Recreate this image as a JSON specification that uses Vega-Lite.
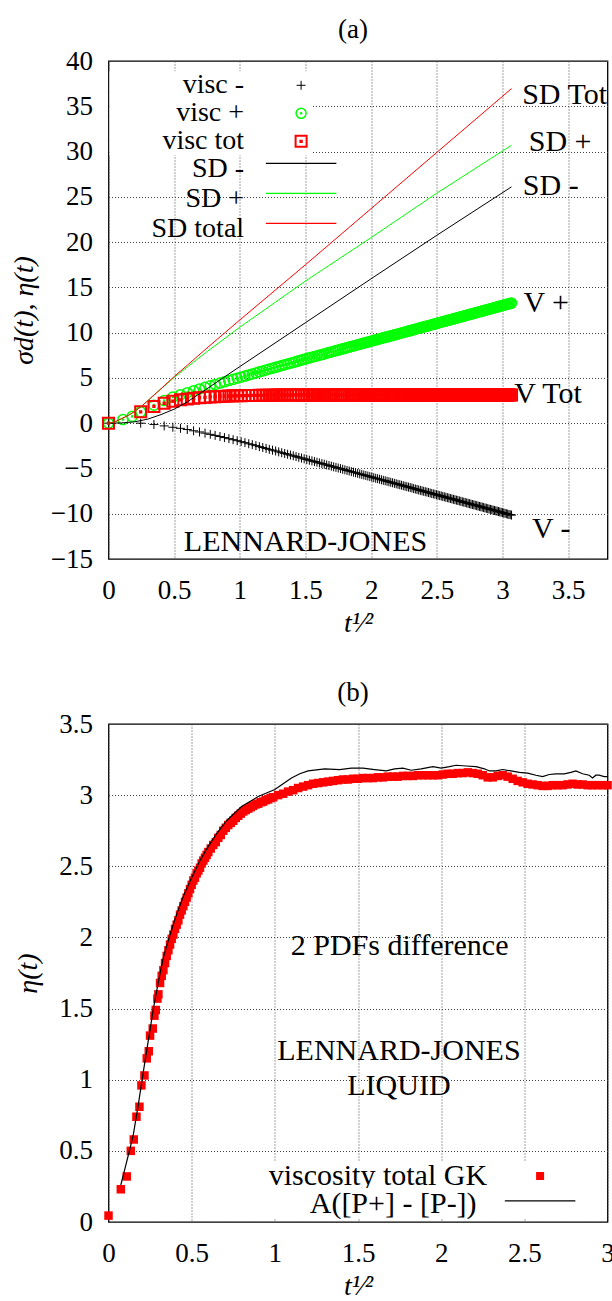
{
  "$schema": "https://vega.github.io/schema/vega-lite/v6.json",
  "background": "white",
  "padding": {"left": 9.5, "top": 15, "right": 0, "bottom": 0},
  "spacing": 165,
  "bounds": "flush",
  "config": {
    "font": "Liberation Serif",
    "view": {"stroke": "#000000", "strokeWidth": 1.3},
    "axis": {"domain": false, "ticks": false, "grid": true, "gridColor": "#444444", "gridDash": [1, 2], "gridWidth": 1,
      "labelFont": "Liberation Serif", "labelFontSize": 27, "labelColor": "#000000", "labelFlush": false, "labelOverlap": false, "labelBound": false,
      "titleFont": "Liberation Serif", "titleFontSize": 28, "titleFontWeight": "normal", "titleFontStyle": "italic", "titleColor": "#000000"},
    "axisX": {"labelPadding": 18, "titlePadding": 6},
    "axisY": {"labelPadding": 16, "titlePadding": 12},
    "legend": {"labelFont": "Liberation Serif", "labelFontSize": 30, "labelColor": "#000000", "labelLimit": 400, "padding": 0, "rowPadding": 0, "title": null},
    "title": {"font": "Liberation Serif", "fontSize": 27, "fontWeight": "normal", "color": "#000000", "anchor": "middle", "offset": 3, "dx": -5}
  },
  "resolve": {
    "scale": {"color": "independent", "shape": "independent", "stroke": "independent", "size": "independent", "strokeWidth": "independent", "x": "independent", "y": "independent"},
    "legend": {"color": "independent", "shape": "independent", "stroke": "independent"}
  },
  "vconcat": [
    {
      "width": 499,
      "height": 498,
      "title": {"text": "(a)"},
      "encoding": {
        "x": {"field": "x", "type": "quantitative", "scale": {"domain": [0, 3.8], "nice": false, "zero": false},
          "axis": {"title": "t¹⁄²", "values": [0, 0.5, 1, 1.5, 2, 2.5, 3, 3.5], "format": "~g"}},
        "y": {"field": "y", "type": "quantitative", "scale": {"domain": [-15, 40], "nice": false, "zero": false},
          "axis": {"title": "σd(t), η(t)", "values": [-15, -10, -5, 0, 5, 10, 15, 20, 25, 30, 35, 40], "format": "~g"}}
      },
      "layer": [
        {
          "data": {"name": "visc"},
          "transform": [{"fold": ["vm", "vp", "vt"], "as": ["key", "y"]}],
          "mark": {"type": "point", "filled": false, "opacity": 1},
          "encoding": {
            "color": {"field": "key", "type": "nominal",
              "scale": {"domain": ["vm", "vp", "vt"], "range": ["#000000", "#00ff00", "#ff0000"]},
              "legend": {"orient": "none", "legendX": 1, "legendY": 10.3, "labelFontSize": 28, "labelAlign": "right", "labelOffset": -71, "symbolOffset": 177.6, "symbolSize": 49, "symbolStrokeWidth": 1, "fillColor": "#ffffff",
                "labelExpr": "datum.value == 'vm' ? 'visc -' : datum.value == 'vp' ? 'visc +' : 'visc tot'"}},
            "shape": {"field": "key", "type": "nominal",
              "scale": {"domain": ["vm", "vp", "vt"], "range": ["M-1,0L1,0M0,-1L0,1", "M-1,0A1,1,0,1,1,1,0A1,1,0,1,1,-1,0ZM-0.12,0A0.12,0.12,0,1,1,0.12,0A0.12,0.12,0,1,1,-0.12,0Z", "M-1,-1L1,-1L1,1L-1,1ZM-0.12,-0.12L0.12,-0.12L0.12,0.12L-0.12,0.12Z"]},
              "legend": {"orient": "none", "legendX": 1, "legendY": 10.3, "labelFontSize": 28, "labelAlign": "right", "labelOffset": -71, "symbolOffset": 177.6, "symbolSize": 49, "symbolStrokeWidth": 1, "fillColor": "#ffffff",
                "labelExpr": "datum.value == 'vm' ? 'visc -' : datum.value == 'vp' ? 'visc +' : 'visc tot'"}},
            "size": {"field": "key", "type": "nominal", "scale": {"domain": ["vm", "vp", "vt"], "range": [81, 121, 81]}, "legend": null},
            "strokeWidth": {"field": "key", "type": "nominal", "scale": {"domain": ["vm", "vp", "vt"], "range": [1, 2, 0.8]}, "legend": null},
            "order": {"field": "key"}
          }
        },
        {
          "data": {"name": "sd"},
          "mark": {"type": "line", "strokeWidth": 1},
          "encoding": {
            "stroke": {"field": "s", "type": "nominal",
              "scale": {"domain": ["SD -", "SD +", "SD total"], "range": ["#000000", "#00ff00", "#ff0000"]},
              "legend": {"orient": "none", "legendX": 1, "legendY": 92.3, "labelFontSize": 28, "labelAlign": "right", "labelOffset": -73, "symbolOffset": 175.6, "symbolType": "M-2.35,-0.4L2.35,-0.4", "symbolSize": 900, "symbolStrokeWidth": 1.2}}
          }
        },
        {
          "data": {"name": "ends_a"},
          "mark": {"type": "text", "align": "left", "baseline": "middle", "fontSize": 30, "font": "Liberation Serif", "color": "#000000"},
          "encoding": {"text": {"field": "label"}}
        },
        {
          "data": {"name": "note_a"},
          "mark": {"type": "text", "align": "center", "baseline": "middle", "fontSize": 30, "font": "Liberation Serif", "color": "#000000"},
          "encoding": {"text": {"field": "label"}}
        }
      ]
    },
    {
      "width": 499,
      "height": 498,
      "title": {"text": "(b)"},
      "encoding": {
        "x": {"field": "x", "type": "quantitative", "scale": {"domain": [0, 3], "nice": false, "zero": false},
          "axis": {"title": "t¹⁄²", "values": [0, 0.5, 1, 1.5, 2, 2.5, 3], "format": "~g"}},
        "y": {"field": "y", "type": "quantitative", "scale": {"domain": [0, 3.5], "nice": false, "zero": false},
          "axis": {"title": "η(t)", "values": [0, 0.5, 1, 1.5, 2, 2.5, 3, 3.5], "format": "~g", "titlePadding": 16}}
      },
      "layer": [
        {
          "data": {"name": "gk"},
          "mark": {"type": "point", "shape": "square", "filled": true, "size": 72, "opacity": 1},
          "encoding": {
            "color": {"datum": "viscosity total GK", "type": "nominal", "scale": {"range": ["#ff0000"]},
              "legend": {"orient": "none", "legendX": 150, "legendY": 437, "labelAlign": "right", "labelOffset": -68, "symbolOffset": 266.6, "symbolSize": 64, "fillColor": "#ffffff"}}
          }
        },
        {
          "data": {"name": "pd"},
          "mark": {"type": "line", "strokeWidth": 1.2},
          "encoding": {
            "stroke": {"datum": "A([P+] - [P-])", "type": "nominal", "scale": {"range": ["#000000"]},
              "legend": {"orient": "none", "legendX": 150, "legendY": 463.9, "labelAlign": "right", "labelOffset": -79.5, "symbolOffset": 265.6, "symbolType": "M-2.35,-0.2L2.35,-0.2", "symbolSize": 900, "symbolStrokeWidth": 1.2, "fillColor": "#ffffff"}}
          }
        },
        {
          "data": {"name": "note_b"},
          "mark": {"type": "text", "align": "center", "baseline": "middle", "fontSize": 30, "font": "Liberation Serif", "color": "#000000"},
          "encoding": {"text": {"field": "label"}}
        }
      ]
    }
  ],
  "datasets": {
    "visc": [
      {"x": 0, "vm": 0, "vp": 0, "vt": 0},
      {"x": 0.11, "vp": 0.4},
      {"x": 0.18, "vp": 0.75},
      {"x": 0.245, "vm": 0, "vp": 1.25, "vt": 1.25},
      {"x": 0.346, "vm": -0.14, "vp": 1.99, "vt": 1.85},
      {"x": 0.424, "vm": -0.3, "vp": 2.5, "vt": 2.2},
      {"x": 0.49, "vm": -0.45, "vp": 2.88, "vt": 2.43},
      {"x": 0.548, "vm": -0.57, "vp": 3.15, "vt": 2.58},
      {"x": 0.6, "vm": -0.7, "vp": 3.37, "vt": 2.67},
      {"x": 0.648, "vm": -0.84, "vp": 3.59, "vt": 2.75},
      {"x": 0.693, "vm": -0.97, "vp": 3.78, "vt": 2.81},
      {"x": 0.735, "vm": -1.1, "vp": 3.96, "vt": 2.86},
      {"x": 0.775, "vm": -1.23, "vp": 4.13, "vt": 2.9},
      {"x": 0.812, "vm": -1.35, "vp": 4.28, "vt": 2.93},
      {"x": 0.849, "vm": -1.47, "vp": 4.43, "vt": 2.96},
      {"x": 0.883, "vm": -1.59, "vp": 4.57, "vt": 2.98},
      {"x": 0.917, "vm": -1.71, "vp": 4.71, "vt": 3.0},
      {"x": 0.949, "vm": -1.82, "vp": 4.84, "vt": 3.02},
      {"x": 0.98, "vm": -1.93, "vp": 4.96, "vt": 3.03},
      {"x": 1.01, "vm": -2.04, "vp": 5.08, "vt": 3.04},
      {"x": 1.039, "vm": -2.15, "vp": 5.2, "vt": 3.05},
      {"x": 1.068, "vm": -2.27, "vp": 5.33, "vt": 3.06},
      {"x": 1.095, "vm": -2.37, "vp": 5.44, "vt": 3.07},
      {"x": 1.1225, "vm": -2.48, "vp": 5.55, "vt": 3.07},
      {"x": 1.1489, "vm": -2.59, "vp": 5.67, "vt": 3.08},
      {"x": 1.1747, "vm": -2.69, "vp": 5.77, "vt": 3.08},
      {"x": 1.2, "vm": -2.79, "vp": 5.88, "vt": 3.09},
      {"x": 1.2247, "vm": -2.89, "vp": 5.98, "vt": 3.09},
      {"x": 1.249, "vm": -2.98, "vp": 6.07, "vt": 3.09},
      {"x": 1.2728, "vm": -3.07, "vp": 6.17, "vt": 3.1},
      {"x": 1.2961, "vm": -3.17, "vp": 6.27, "vt": 3.1},
      {"x": 1.3191, "vm": -3.26, "vp": 6.36, "vt": 3.1},
      {"x": 1.3416, "vm": -3.35, "vp": 6.45, "vt": 3.1},
      {"x": 1.3638, "vm": -3.43, "vp": 6.54, "vt": 3.11},
      {"x": 1.3856, "vm": -3.52, "vp": 6.63, "vt": 3.11},
      {"x": 1.4071, "vm": -3.6, "vp": 6.71, "vt": 3.11},
      {"x": 1.4283, "vm": -3.69, "vp": 6.8, "vt": 3.11},
      {"x": 1.4491, "vm": -3.77, "vp": 6.88, "vt": 3.11},
      {"x": 1.4697, "vm": -3.85, "vp": 6.97, "vt": 3.12},
      {"x": 1.49, "vm": -3.93, "vp": 7.05, "vt": 3.12},
      {"x": 1.51, "vm": -4.01, "vp": 7.13, "vt": 3.12},
      {"x": 1.5297, "vm": -4.09, "vp": 7.21, "vt": 3.12},
      {"x": 1.5492, "vm": -4.16, "vp": 7.28, "vt": 3.12},
      {"x": 1.5684, "vm": -4.24, "vp": 7.36, "vt": 3.12},
      {"x": 1.5875, "vm": -4.31, "vp": 7.43, "vt": 3.12},
      {"x": 1.6062, "vm": -4.39, "vp": 7.51, "vt": 3.12},
      {"x": 1.6248, "vm": -4.46, "vp": 7.58, "vt": 3.12},
      {"x": 1.6432, "vm": -4.53, "vp": 7.65, "vt": 3.12},
      {"x": 1.6613, "vm": -4.61, "vp": 7.73, "vt": 3.12},
      {"x": 1.6793, "vm": -4.68, "vp": 7.8, "vt": 3.12},
      {"x": 1.6971, "vm": -4.75, "vp": 7.87, "vt": 3.12},
      {"x": 1.7146, "vm": -4.82, "vp": 7.94, "vt": 3.12},
      {"x": 1.7321, "vm": -4.88, "vp": 8.0, "vt": 3.12},
      {"x": 1.7493, "vm": -4.95, "vp": 8.07, "vt": 3.12},
      {"x": 1.7664, "vm": -5.02, "vp": 8.14, "vt": 3.12},
      {"x": 1.7833, "vm": -5.09, "vp": 8.21, "vt": 3.12},
      {"x": 1.8, "vm": -5.15, "vp": 8.27, "vt": 3.12},
      {"x": 1.8166, "vm": -5.22, "vp": 8.34, "vt": 3.12},
      {"x": 1.833, "vm": -5.28, "vp": 8.4, "vt": 3.12},
      {"x": 1.8493, "vm": -5.35, "vp": 8.47, "vt": 3.12},
      {"x": 1.8655, "vm": -5.41, "vp": 8.53, "vt": 3.12},
      {"x": 1.8815, "vm": -5.47, "vp": 8.59, "vt": 3.12},
      {"x": 1.8974, "vm": -5.54, "vp": 8.66, "vt": 3.12},
      {"x": 1.9131, "vm": -5.6, "vp": 8.72, "vt": 3.12},
      {"x": 1.9287, "vm": -5.66, "vp": 8.78, "vt": 3.12},
      {"x": 1.9442, "vm": -5.72, "vp": 8.84, "vt": 3.12},
      {"x": 1.9596, "vm": -5.78, "vp": 8.9, "vt": 3.12},
      {"x": 1.9748, "vm": -5.84, "vp": 8.96, "vt": 3.12},
      {"x": 1.99, "vm": -5.9, "vp": 9.02, "vt": 3.12},
      {"x": 2.005, "vm": -5.96, "vp": 9.08, "vt": 3.12},
      {"x": 2.0199, "vm": -6.02, "vp": 9.14, "vt": 3.12},
      {"x": 2.0347, "vm": -6.08, "vp": 9.2, "vt": 3.12},
      {"x": 2.0494, "vm": -6.13, "vp": 9.25, "vt": 3.12},
      {"x": 2.064, "vm": -6.19, "vp": 9.31, "vt": 3.12},
      {"x": 2.0785, "vm": -6.25, "vp": 9.37, "vt": 3.12},
      {"x": 2.0928, "vm": -6.31, "vp": 9.43, "vt": 3.12},
      {"x": 2.1071, "vm": -6.36, "vp": 9.48, "vt": 3.12},
      {"x": 2.1213, "vm": -6.42, "vp": 9.53, "vt": 3.11},
      {"x": 2.1354, "vm": -6.47, "vp": 9.58, "vt": 3.11},
      {"x": 2.1494, "vm": -6.53, "vp": 9.64, "vt": 3.11},
      {"x": 2.1633, "vm": -6.58, "vp": 9.69, "vt": 3.11},
      {"x": 2.1772, "vm": -6.64, "vp": 9.75, "vt": 3.11},
      {"x": 2.1909, "vm": -6.69, "vp": 9.8, "vt": 3.11},
      {"x": 2.2045, "vm": -6.75, "vp": 9.86, "vt": 3.11},
      {"x": 2.2181, "vm": -6.8, "vp": 9.91, "vt": 3.11},
      {"x": 2.2316, "vm": -6.85, "vp": 9.96, "vt": 3.11},
      {"x": 2.245, "vm": -6.91, "vp": 10.02, "vt": 3.11},
      {"x": 2.2583, "vm": -6.96, "vp": 10.07, "vt": 3.11},
      {"x": 2.2716, "vm": -7.01, "vp": 10.12, "vt": 3.11},
      {"x": 2.2847, "vm": -7.06, "vp": 10.17, "vt": 3.11},
      {"x": 2.2978, "vm": -7.11, "vp": 10.22, "vt": 3.11},
      {"x": 2.3108, "vm": -7.16, "vp": 10.27, "vt": 3.11},
      {"x": 2.3238, "vm": -7.22, "vp": 10.33, "vt": 3.11},
      {"x": 2.3367, "vm": -7.27, "vp": 10.38, "vt": 3.11},
      {"x": 2.3495, "vm": -7.32, "vp": 10.43, "vt": 3.11},
      {"x": 2.3622, "vm": -7.37, "vp": 10.48, "vt": 3.11},
      {"x": 2.3749, "vm": -7.42, "vp": 10.53, "vt": 3.11},
      {"x": 2.3875, "vm": -7.47, "vp": 10.58, "vt": 3.11},
      {"x": 2.4, "vm": -7.52, "vp": 10.63, "vt": 3.11},
      {"x": 2.4125, "vm": -7.57, "vp": 10.68, "vt": 3.11},
      {"x": 2.4249, "vm": -7.61, "vp": 10.72, "vt": 3.11},
      {"x": 2.4372, "vm": -7.66, "vp": 10.77, "vt": 3.11},
      {"x": 2.4495, "vm": -7.71, "vp": 10.82, "vt": 3.11},
      {"x": 2.4617, "vm": -7.76, "vp": 10.87, "vt": 3.11},
      {"x": 2.4739, "vm": -7.81, "vp": 10.92, "vt": 3.11},
      {"x": 2.486, "vm": -7.85, "vp": 10.96, "vt": 3.11},
      {"x": 2.498, "vm": -7.9, "vp": 11.01, "vt": 3.11},
      {"x": 2.51, "vm": -7.95, "vp": 11.06, "vt": 3.11},
      {"x": 2.5219, "vm": -8.0, "vp": 11.11, "vt": 3.11},
      {"x": 2.5338, "vm": -8.04, "vp": 11.15, "vt": 3.11},
      {"x": 2.5456, "vm": -8.09, "vp": 11.2, "vt": 3.11},
      {"x": 2.5573, "vm": -8.14, "vp": 11.25, "vt": 3.11},
      {"x": 2.569, "vm": -8.18, "vp": 11.29, "vt": 3.11},
      {"x": 2.5807, "vm": -8.23, "vp": 11.34, "vt": 3.11},
      {"x": 2.5923, "vm": -8.27, "vp": 11.38, "vt": 3.11},
      {"x": 2.6038, "vm": -8.32, "vp": 11.43, "vt": 3.11},
      {"x": 2.6153, "vm": -8.36, "vp": 11.47, "vt": 3.11},
      {"x": 2.6268, "vm": -8.41, "vp": 11.52, "vt": 3.11},
      {"x": 2.6382, "vm": -8.45, "vp": 11.56, "vt": 3.11},
      {"x": 2.6495, "vm": -8.5, "vp": 11.61, "vt": 3.11},
      {"x": 2.6608, "vm": -8.54, "vp": 11.65, "vt": 3.11},
      {"x": 2.6721, "vm": -8.59, "vp": 11.7, "vt": 3.11},
      {"x": 2.6833, "vm": -8.63, "vp": 11.74, "vt": 3.11},
      {"x": 2.6944, "vm": -8.68, "vp": 11.79, "vt": 3.11},
      {"x": 2.7055, "vm": -8.72, "vp": 11.83, "vt": 3.11},
      {"x": 2.7166, "vm": -8.76, "vp": 11.87, "vt": 3.11},
      {"x": 2.7276, "vm": -8.81, "vp": 11.92, "vt": 3.11},
      {"x": 2.7386, "vm": -8.85, "vp": 11.96, "vt": 3.11},
      {"x": 2.7495, "vm": -8.89, "vp": 12.0, "vt": 3.11},
      {"x": 2.7604, "vm": -8.94, "vp": 12.05, "vt": 3.11},
      {"x": 2.7713, "vm": -8.98, "vp": 12.09, "vt": 3.11},
      {"x": 2.7821, "vm": -9.02, "vp": 12.13, "vt": 3.11},
      {"x": 2.7928, "vm": -9.06, "vp": 12.17, "vt": 3.11},
      {"x": 2.8036, "vm": -9.11, "vp": 12.22, "vt": 3.11},
      {"x": 2.8142, "vm": -9.15, "vp": 12.26, "vt": 3.11},
      {"x": 2.8249, "vm": -9.19, "vp": 12.3, "vt": 3.11},
      {"x": 2.8355, "vm": -9.23, "vp": 12.34, "vt": 3.11},
      {"x": 2.846, "vm": -9.27, "vp": 12.38, "vt": 3.11},
      {"x": 2.8566, "vm": -9.32, "vp": 12.43, "vt": 3.11},
      {"x": 2.8671, "vm": -9.36, "vp": 12.47, "vt": 3.11},
      {"x": 2.8775, "vm": -9.4, "vp": 12.51, "vt": 3.11},
      {"x": 2.8879, "vm": -9.44, "vp": 12.55, "vt": 3.11},
      {"x": 2.8983, "vm": -9.48, "vp": 12.59, "vt": 3.11},
      {"x": 2.9086, "vm": -9.52, "vp": 12.63, "vt": 3.11},
      {"x": 2.9189, "vm": -9.56, "vp": 12.67, "vt": 3.11},
      {"x": 2.9292, "vm": -9.6, "vp": 12.71, "vt": 3.11},
      {"x": 2.9394, "vm": -9.64, "vp": 12.75, "vt": 3.11},
      {"x": 2.9496, "vm": -9.68, "vp": 12.79, "vt": 3.11},
      {"x": 2.9597, "vm": -9.72, "vp": 12.83, "vt": 3.11},
      {"x": 2.9698, "vm": -9.76, "vp": 12.87, "vt": 3.11},
      {"x": 2.9799, "vm": -9.8, "vp": 12.91, "vt": 3.11},
      {"x": 2.99, "vm": -9.84, "vp": 12.95, "vt": 3.11},
      {"x": 3.0, "vm": -9.88, "vp": 12.99, "vt": 3.11},
      {"x": 3.01, "vm": -9.92, "vp": 13.03, "vt": 3.11},
      {"x": 3.0199, "vm": -9.96, "vp": 13.07, "vt": 3.11},
      {"x": 3.0299, "vm": -10.0, "vp": 13.11, "vt": 3.11},
      {"x": 3.0397, "vm": -10.04, "vp": 13.15, "vt": 3.11},
      {"x": 3.0496, "vm": -10.08, "vp": 13.19, "vt": 3.11},
      {"x": 3.0594, "vm": -10.11, "vp": 13.22, "vt": 3.11},
      {"x": 3.0692, "vm": -10.15, "vp": 13.26, "vt": 3.11}
    ],
    "sd": [
      {"s": "SD -", "x": 0, "y": 0}, {"s": "SD -", "x": 0.1, "y": 0.03}, {"s": "SD -", "x": 0.2, "y": 0.15}, {"s": "SD -", "x": 0.3, "y": 0.45},
      {"s": "SD -", "x": 0.4, "y": 0.95}, {"s": "SD -", "x": 0.5, "y": 1.55}, {"s": "SD -", "x": 0.6, "y": 2.35}, {"s": "SD -", "x": 0.75, "y": 3.8},
      {"s": "SD -", "x": 1.0, "y": 6.25}, {"s": "SD -", "x": 1.5, "y": 11.1}, {"s": "SD -", "x": 2.0, "y": 15.95}, {"s": "SD -", "x": 2.5, "y": 20.75},
      {"s": "SD -", "x": 3.069, "y": 26.1},
      {"s": "SD +", "x": 0, "y": 0}, {"s": "SD +", "x": 0.05, "y": 0.15}, {"s": "SD +", "x": 0.1, "y": 0.5}, {"s": "SD +", "x": 0.15, "y": 0.85},
      {"s": "SD +", "x": 0.2, "y": 1.3}, {"s": "SD +", "x": 0.25, "y": 1.85}, {"s": "SD +", "x": 0.3, "y": 2.5}, {"s": "SD +", "x": 0.4, "y": 3.8},
      {"s": "SD +", "x": 0.5, "y": 5.05}, {"s": "SD +", "x": 0.6, "y": 6.2}, {"s": "SD +", "x": 0.75, "y": 7.9}, {"s": "SD +", "x": 1.0, "y": 10.6},
      {"s": "SD +", "x": 1.5, "y": 15.7}, {"s": "SD +", "x": 2.0, "y": 20.5}, {"s": "SD +", "x": 2.5, "y": 25.4}, {"s": "SD +", "x": 3.069, "y": 30.7},
      {"s": "SD total", "x": 0, "y": 0}, {"s": "SD total", "x": 0.05, "y": 0.15}, {"s": "SD total", "x": 0.1, "y": 0.5}, {"s": "SD total", "x": 0.15, "y": 0.85},
      {"s": "SD total", "x": 0.2, "y": 1.3}, {"s": "SD total", "x": 0.25, "y": 1.85}, {"s": "SD total", "x": 0.3, "y": 2.5}, {"s": "SD total", "x": 0.4, "y": 3.8},
      {"s": "SD total", "x": 0.5, "y": 5.15}, {"s": "SD total", "x": 0.6, "y": 6.4}, {"s": "SD total", "x": 0.75, "y": 8.3}, {"s": "SD total", "x": 1.0, "y": 11.4},
      {"s": "SD total", "x": 1.5, "y": 17.5}, {"s": "SD total", "x": 2.0, "y": 23.7}, {"s": "SD total", "x": 2.5, "y": 29.9}, {"s": "SD total", "x": 3.069, "y": 36.95}
    ],
    "ends_a": [
      {"x": 3.15, "y": 36.2, "label": "SD Tot"},
      {"x": 3.2, "y": 31.1, "label": "SD +"},
      {"x": 3.155, "y": 26.25, "label": "SD -"},
      {"x": 3.16, "y": 13.3, "label": "V +"},
      {"x": 3.09, "y": 3.2, "label": "V Tot"},
      {"x": 3.225, "y": -11.7, "label": "V -"}
    ],
    "note_a": [
      {"x": 1.5, "y": -13.1, "label": "LENNARD-JONES"}
    ],
    "note_b": [
      {"x": 1.75, "y": 1.94, "label": "2 PDFs difference"},
      {"x": 1.746, "y": 1.2, "label": "LENNARD-JONES"},
      {"x": 1.746, "y": 0.958, "label": "LIQUID"}
    ],
    "gk": [
      {"x": 0, "y": 0.045}, {"x": 0.074, "y": 0.23}, {"x": 0.11, "y": 0.32}, {"x": 0.134, "y": 0.5}, {"x": 0.152, "y": 0.58},
      {"x": 0.168, "y": 0.74}, {"x": 0.186, "y": 0.81}, {"x": 0.198, "y": 0.96}, {"x": 0.216, "y": 1.03}, {"x": 0.23, "y": 1.15},
      {"x": 0.242, "y": 1.2}, {"x": 0.25, "y": 1.31}, {"x": 0.266, "y": 1.36}, {"x": 0.276, "y": 1.45}, {"x": 0.284, "y": 1.49},
      {"x": 0.294, "y": 1.57}, {"x": 0.3, "y": 1.6}, {"x": 0.31, "y": 1.68}, {"x": 0.32, "y": 1.73}, {"x": 0.33, "y": 1.77},
      {"x": 0.34, "y": 1.82}, {"x": 0.35, "y": 1.87}, {"x": 0.36, "y": 1.91}, {"x": 0.37, "y": 1.95}, {"x": 0.38, "y": 1.99},
      {"x": 0.39, "y": 2.02}, {"x": 0.4, "y": 2.06}, {"x": 0.41, "y": 2.09}, {"x": 0.42, "y": 2.12}, {"x": 0.43, "y": 2.16},
      {"x": 0.44, "y": 2.19}, {"x": 0.45, "y": 2.22}, {"x": 0.46, "y": 2.25}, {"x": 0.47, "y": 2.28}, {"x": 0.48, "y": 2.31},
      {"x": 0.49, "y": 2.34}, {"x": 0.5, "y": 2.37}, {"x": 0.51, "y": 2.4}, {"x": 0.52, "y": 2.42}, {"x": 0.53, "y": 2.45},
      {"x": 0.54, "y": 2.47}, {"x": 0.55, "y": 2.49}, {"x": 0.56, "y": 2.52}, {"x": 0.57, "y": 2.54}, {"x": 0.58, "y": 2.56},
      {"x": 0.59, "y": 2.58}, {"x": 0.6, "y": 2.6}, {"x": 0.615, "y": 2.625}, {"x": 0.63, "y": 2.65}, {"x": 0.645, "y": 2.67},
      {"x": 0.66, "y": 2.7}, {"x": 0.675, "y": 2.72}, {"x": 0.69, "y": 2.75}, {"x": 0.705, "y": 2.77}, {"x": 0.72, "y": 2.79},
      {"x": 0.735, "y": 2.805}, {"x": 0.75, "y": 2.82}, {"x": 0.765, "y": 2.84}, {"x": 0.78, "y": 2.855}, {"x": 0.795, "y": 2.87},
      {"x": 0.81, "y": 2.885}, {"x": 0.825, "y": 2.895}, {"x": 0.84, "y": 2.905}, {"x": 0.855, "y": 2.915}, {"x": 0.87, "y": 2.925},
      {"x": 0.885, "y": 2.935}, {"x": 0.9, "y": 2.94}, {"x": 0.915, "y": 2.95}, {"x": 0.93, "y": 2.955}, {"x": 0.945, "y": 2.965},
      {"x": 0.96, "y": 2.97}, {"x": 0.975, "y": 2.98}, {"x": 0.99, "y": 2.985}, {"x": 1.02, "y": 3.0}, {"x": 1.05, "y": 3.01},
      {"x": 1.08, "y": 3.025}, {"x": 1.11, "y": 3.035}, {"x": 1.14, "y": 3.05}, {"x": 1.17, "y": 3.06}, {"x": 1.2, "y": 3.07},
      {"x": 1.23, "y": 3.08}, {"x": 1.26, "y": 3.085}, {"x": 1.29, "y": 3.09}, {"x": 1.32, "y": 3.095}, {"x": 1.35, "y": 3.1},
      {"x": 1.38, "y": 3.105}, {"x": 1.41, "y": 3.11}, {"x": 1.44, "y": 3.11}, {"x": 1.47, "y": 3.115}, {"x": 1.5, "y": 3.115},
      {"x": 1.53, "y": 3.12}, {"x": 1.56, "y": 3.12}, {"x": 1.59, "y": 3.12}, {"x": 1.62, "y": 3.125}, {"x": 1.65, "y": 3.125},
      {"x": 1.68, "y": 3.13}, {"x": 1.71, "y": 3.13}, {"x": 1.74, "y": 3.13}, {"x": 1.77, "y": 3.135}, {"x": 1.8, "y": 3.135},
      {"x": 1.83, "y": 3.135}, {"x": 1.86, "y": 3.14}, {"x": 1.89, "y": 3.14}, {"x": 1.92, "y": 3.14}, {"x": 1.95, "y": 3.14},
      {"x": 1.98, "y": 3.14}, {"x": 2.01, "y": 3.145}, {"x": 2.04, "y": 3.15}, {"x": 2.07, "y": 3.15}, {"x": 2.1, "y": 3.155},
      {"x": 2.13, "y": 3.155}, {"x": 2.16, "y": 3.16}, {"x": 2.19, "y": 3.155}, {"x": 2.22, "y": 3.15}, {"x": 2.25, "y": 3.14},
      {"x": 2.28, "y": 3.125}, {"x": 2.31, "y": 3.125}, {"x": 2.34, "y": 3.135}, {"x": 2.37, "y": 3.14}, {"x": 2.4, "y": 3.13},
      {"x": 2.43, "y": 3.115}, {"x": 2.46, "y": 3.1}, {"x": 2.49, "y": 3.09}, {"x": 2.52, "y": 3.08}, {"x": 2.55, "y": 3.075},
      {"x": 2.58, "y": 3.07}, {"x": 2.61, "y": 3.065}, {"x": 2.64, "y": 3.065}, {"x": 2.67, "y": 3.07}, {"x": 2.7, "y": 3.07},
      {"x": 2.73, "y": 3.07}, {"x": 2.76, "y": 3.075}, {"x": 2.79, "y": 3.08}, {"x": 2.82, "y": 3.075}, {"x": 2.85, "y": 3.075},
      {"x": 2.88, "y": 3.07}, {"x": 2.91, "y": 3.07}, {"x": 2.94, "y": 3.07}, {"x": 2.97, "y": 3.07}, {"x": 3.0, "y": 3.07}
    ],
    "pd": [
      {"x": 0.074, "y": 0.26}, {"x": 0.1, "y": 0.38}, {"x": 0.13, "y": 0.52}, {"x": 0.15, "y": 0.62}, {"x": 0.18, "y": 0.83},
      {"x": 0.21, "y": 1.06}, {"x": 0.24, "y": 1.28}, {"x": 0.27, "y": 1.5}, {"x": 0.3, "y": 1.69}, {"x": 0.33, "y": 1.86},
      {"x": 0.36, "y": 1.98}, {"x": 0.4, "y": 2.13}, {"x": 0.45, "y": 2.29}, {"x": 0.5, "y": 2.42}, {"x": 0.55, "y": 2.54},
      {"x": 0.6, "y": 2.64}, {"x": 0.65, "y": 2.73}, {"x": 0.71, "y": 2.82}, {"x": 0.8, "y": 2.92}, {"x": 0.9, "y": 2.99},
      {"x": 1.0, "y": 3.04}, {"x": 1.05, "y": 3.08}, {"x": 1.1, "y": 3.12}, {"x": 1.15, "y": 3.15}, {"x": 1.2, "y": 3.17},
      {"x": 1.3, "y": 3.185}, {"x": 1.39, "y": 3.18}, {"x": 1.46, "y": 3.19}, {"x": 1.53, "y": 3.19}, {"x": 1.6, "y": 3.18},
      {"x": 1.67, "y": 3.17}, {"x": 1.72, "y": 3.185}, {"x": 1.77, "y": 3.19}, {"x": 1.82, "y": 3.175}, {"x": 1.88, "y": 3.185},
      {"x": 1.95, "y": 3.2}, {"x": 2.0, "y": 3.19}, {"x": 2.05, "y": 3.2}, {"x": 2.09, "y": 3.21}, {"x": 2.15, "y": 3.205},
      {"x": 2.21, "y": 3.2}, {"x": 2.26, "y": 3.185}, {"x": 2.29, "y": 3.17}, {"x": 2.33, "y": 3.17}, {"x": 2.37, "y": 3.18},
      {"x": 2.42, "y": 3.17}, {"x": 2.47, "y": 3.16}, {"x": 2.52, "y": 3.155}, {"x": 2.57, "y": 3.14}, {"x": 2.61, "y": 3.13},
      {"x": 2.65, "y": 3.145}, {"x": 2.69, "y": 3.15}, {"x": 2.74, "y": 3.15}, {"x": 2.78, "y": 3.16}, {"x": 2.81, "y": 3.17},
      {"x": 2.85, "y": 3.15}, {"x": 2.89, "y": 3.14}, {"x": 2.91, "y": 3.12}, {"x": 2.93, "y": 3.14}, {"x": 2.95, "y": 3.14},
      {"x": 2.98, "y": 3.13}, {"x": 3.0, "y": 3.13}
    ]
  }
}
